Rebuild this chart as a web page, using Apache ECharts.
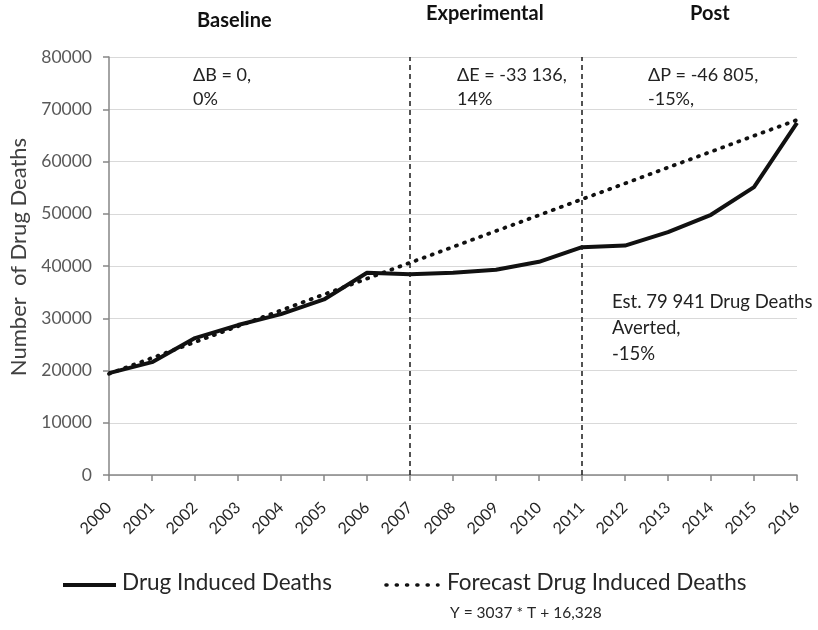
<!DOCTYPE html>
<html>
<head>
<meta charset="utf-8">
<script src="https://cdn.jsdelivr.net/npm/echarts@6/dist/echarts.min.js"></script>
<style>
  html, body { margin: 0; padding: 0; background: #fff; }
  #chart { width: 818px; height: 630px; }
</style>
</head>
<body>
<div id="chart"></div>
<script>
// Years on the horizontal axis
const years = ['2000','2001','2002','2003','2004','2005','2006','2007','2008',
               '2009','2010','2011','2012','2013','2014','2015','2016'];

// Observed drug induced deaths
const observedDeaths = [19500, 21600, 26200, 28700, 30800, 33600, 38700, 38400, 38700,
                        39300, 40800, 43600, 43900, 46500, 49800, 55100, 67400];

// Forecast from the baseline trend (Y = 3037 * T + 16,328)
const forecastDeaths = [19365, 22402, 25439, 28476, 31513, 34550, 37587, 40624, 43661,
                        46698, 49735, 52772, 55809, 58846, 61883, 64920, 67957];

// Period boundaries
const periodBreaks = ['2007', '2011'];

const yTicks = { min: 0, max: 80000, interval: 10000 };

const FONT = 'Lato, "Open Sans", sans-serif';

const chart = echarts.init(document.getElementById('chart'));

chart.setOption({
  animation: false,
  backgroundColor: '#ffffff',
  textStyle: { fontFamily: FONT },
  grid: { left: 108, right: 21, top: 57, bottom: 155 },
  xAxis: {
    type: 'category',
    data: years,
    boundaryGap: false,
    axisLine: { lineStyle: { color: '#868686', width: 1.5 } },
    axisTick: { show: true, alignWithLabel: true, length: 6, lineStyle: { color: '#868686', width: 1.5 } },
    axisLabel: { rotate: 45, color: '#262626', fontSize: 16, margin: 30, fontFamily: FONT },
    splitLine: { show: false }
  },
  yAxis: {
    type: 'value',
    min: yTicks.min,
    max: yTicks.max,
    interval: yTicks.interval,
    name: 'Number  of Drug Deaths',
    nameLocation: 'middle',
    nameGap: 79,
    nameTextStyle: { color: '#404040', fontSize: 22, fontFamily: FONT, padding: [0, 0, 0, 18] },
    axisLine: { show: true, lineStyle: { color: '#868686', width: 1.5 } },
    axisTick: { show: true, length: 6, lineStyle: { color: '#868686', width: 1.5 } },
    axisLabel: { color: '#595959', fontSize: 17.5, margin: 17, fontFamily: FONT,
                 formatter: v => String(v) },
    splitLine: { show: true, lineStyle: { color: '#d9d9d9', width: 1.2 } }
  },
  series: [
    {
      name: 'Forecast Drug Induced Deaths',
      type: 'line',
      data: forecastDeaths,
      symbol: 'none',
      z: 3,
      lineStyle: { color: '#111', width: 3.8, type: [1, 7.6], cap: 'round' }
    },
    {
      name: 'Drug Induced Deaths',
      type: 'line',
      data: observedDeaths,
      symbol: 'none',
      z: 4,
      lineStyle: { color: '#111', width: 4, join: 'round' },
      markLine: {
        silent: true,
        symbol: 'none',
        label: { show: false },
        lineStyle: { color: '#1a1a1a', width: 1.5, type: [5, 4] },
        data: periodBreaks.map(y => ({ xAxis: y }))
      }
    }
  ],
  graphic: [
    // period headings
    { type: 'text', left: 197, top: 11, style: { text: 'Baseline', font: 'bold 20px ' + FONT, fill: '#111' } },
    { type: 'text', left: 426, top: 4, style: { text: 'Experimental', font: 'bold 20px ' + FONT, fill: '#111' } },
    { type: 'text', left: 690, top: 4, style: { text: 'Post', font: 'bold 20px ' + FONT, fill: '#111' } },
    // period changes
    { type: 'text', left: 193, top: 63, style: { text: 'ΔB = 0,\n0%', font: '18px ' + FONT, fill: '#222', lineHeight: 24 } },
    { type: 'text', left: 457, top: 63, style: { text: 'ΔE = -33 136,\n14%', font: '18px ' + FONT, fill: '#222', lineHeight: 24 } },
    { type: 'text', left: 648, top: 63, style: { text: 'ΔP = -46 805,\n-15%,', font: '18px ' + FONT, fill: '#222', lineHeight: 24 } },
    { type: 'text', left: 612, top: 289, style: { text: 'Est. 79 941 Drug Deaths\nAverted,\n-15%', font: '18.5px ' + FONT, fill: '#222', lineHeight: 26 } },
    // legend
    { type: 'line', shape: { x1: 63, y1: 585, x2: 116, y2: 585 }, style: { stroke: '#111', lineWidth: 4 } },
    { type: 'text', left: 122, top: 571, style: { text: 'Drug Induced Deaths', font: '22.5px ' + FONT, fill: '#262626' } },
    { type: 'line', shape: { x1: 386, y1: 585, x2: 438, y2: 585 }, style: { stroke: '#111', lineWidth: 3.6, lineDash: [1, 9.3], lineCap: 'round' } },
    { type: 'text', left: 447, top: 571, style: { text: 'Forecast Drug Induced Deaths', font: '22.5px ' + FONT, fill: '#262626' } },
    { type: 'text', left: 450, top: 605, style: { text: 'Y = 3037 * T + 16,328', font: '15.5px ' + FONT, fill: '#262626' } }
  ]
});
</script>
</body>
</html>
